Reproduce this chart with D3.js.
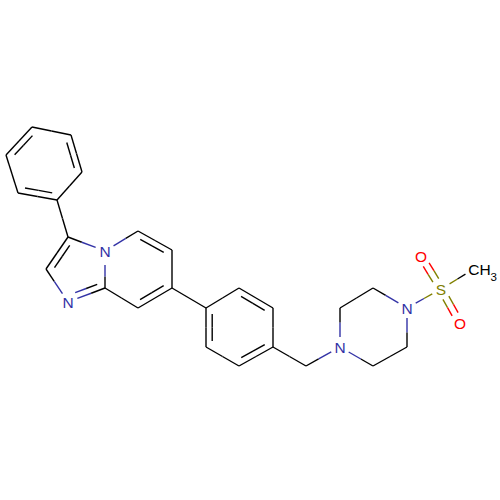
<!DOCTYPE html>
<html>
<head>
<meta charset="utf-8">
<script src="https://cdn.jsdelivr.net/npm/d3@7"></script>
<style>
html, body { margin: 0; padding: 0; background: #fff; }
svg { display: block; }
</style>
</head>
<body>
<svg id="chart" width="500" height="500"></svg>
<script>
// atom positions in drawing units
var atomX = [3.2, 7.1, 8.2, 5.7, 1.8, 0.6, 6.8, 10.5, 4.6, 6.8, 10.5, 13.8, 17.2, 17.2, 13.8,
             20.6, 23.9, 27.3, 27.3, 23.9, 20.6, 30.6, 34.0, 34.0, 37.3, 40.7, 40.7, 37.3, 44.1, 42.1, 46.0, 47.4];
var atomY = [12.7, 13.5, 17.2, 20.0, 19.3, 15.5, 23.7, 25.1, 26.9, 30.2, 28.8, 23.1, 25.0, 28.8, 30.8,
             30.8, 28.8, 30.8, 34.7, 36.6, 34.7, 36.6, 34.7, 30.8, 28.8, 30.8, 34.7, 36.6, 28.9, 25.6, 32.3, 26.9];
var atomElement = ['C','C','C','C','C','C','C','N','C','N','C','C','C','C','C',
                   'C','C','C','C','C','C','C','N','C','C','N','C','C','S','O','O','C'];

var bondFrom = [0,1,2,3,4,5, 3,6,6,8,9,10, 7,11,12,13,14, 13,15,16,17,18,19,20, 18,21,22,23,24,25,26,27, 25,28,28,28];
var bondTo   = [1,2,3,4,5,0, 6,7,8,9,10,7, 11,12,13,14,10, 15,16,17,18,19,20,15, 21,22,23,24,25,26,27,22, 28,29,30,31];
var bondOrder= [1,2,1,2,1,2, 1,1,2,1,2,1, 1,2,1,2,1, 1,1,2,1,2,1,2, 1,1,1,1,1,1,1,1, 1,2,2,1];

var rings = [[0,1,2,3,4,5], [6,7,10,9,8], [7,11,12,13,14,10], [15,16,17,18,19,20]];

var elementColor = { C: '#000000', N: '#3333a6', O: '#ff0000', S: '#808000' };

var methylAtom = 31, bridgeN = 7, bridgeC = 10;
var labelGap = 10, bridgeGap = 14;
var innerOffset = 6.2, innerTrim = 6, sulfonylOffset = 3.4;
var labelSize = 15.5;

var svg = d3.select('#chart');
var x = d3.scaleLinear().domain([0, 50]).range([0, 500]);
var y = d3.scaleLinear().domain([0, 50]).range([0, 500]);

function pos(i) { return [x(atomX[i]), y(atomY[i])]; }

function hasLabel(i) { return atomElement[i] !== 'C' || i === methylAtom; }

function gapAt(atom, other) {
    // the bond below the bridge N stops further from its label
    if (atom === bridgeN && other === bridgeC) { return bridgeGap; }
    return hasLabel(atom) ? labelGap : 0;
}

function ringCentre(a, b) {
    var ring = rings.filter(function (r) { return r.indexOf(a) >= 0 && r.indexOf(b) >= 0; })[0];
    if (!ring) { return null; }
    return [d3.mean(ring, function (i) { return pos(i)[0]; }), d3.mean(ring, function (i) { return pos(i)[1]; })];
}

// clip both ends of a bond, then split what is left in two colours at its middle
function halves(a, b, p, q, gapA, gapB) {
    var dx = q[0] - p[0], dy = q[1] - p[1], len = Math.sqrt(dx * dx + dy * dy);
    var t0 = gapA / len, t1 = 1 - gapB / len, tm = (t0 + t1) / 2;
    function at(t) { return [p[0] + dx * t, p[1] + dy * t]; }
    return [
        { p: at(t0), q: at(tm), color: elementColor[atomElement[a]] },
        { p: at(tm), q: at(t1), color: elementColor[atomElement[b]] }
    ];
}

var segments = [];
bondFrom.forEach(function (a, k) {
    var b = bondTo[k], p = pos(a), q = pos(b);
    var dx = q[0] - p[0], dy = q[1] - p[1], len = Math.sqrt(dx * dx + dy * dy);
    var nx = -dy / len, ny = dx / len;
    var centre = ringCentre(a, b);

    if (bondOrder[k] === 2 && !centre) {
        // sulfonyl S=O, two lines either side of the axis
        [-1, 1].forEach(function (s) {
            var o = s * sulfonylOffset;
            segments = segments.concat(halves(a, b,
                [p[0] + nx * o, p[1] + ny * o], [q[0] + nx * o, q[1] + ny * o],
                gapAt(a, b), gapAt(b, a)));
        });
        return;
    }

    segments = segments.concat(halves(a, b, p, q, gapAt(a, b), gapAt(b, a)));

    if (bondOrder[k] === 2) {
        var side = ((centre[0] - p[0]) * nx + (centre[1] - p[1]) * ny) > 0 ? 1 : -1;
        var o = side * innerOffset;
        segments = segments.concat(halves(a, b,
            [p[0] + nx * o, p[1] + ny * o], [q[0] + nx * o, q[1] + ny * o],
            gapAt(a, b) || innerTrim, gapAt(b, a) || innerTrim));
    }
});

svg.append('g').selectAll('line').data(segments).enter().append('line')
    .attr('x1', function (d) { return d.p[0]; })
    .attr('y1', function (d) { return d.p[1]; })
    .attr('x2', function (d) { return d.q[0]; })
    .attr('y2', function (d) { return d.q[1]; })
    .attr('stroke', function (d) { return d.color; })
    .attr('stroke-width', 1.4);

var heteroAtoms = d3.range(atomX.length).filter(function (i) { return atomElement[i] !== 'C'; });

svg.append('g').selectAll('text').data(heteroAtoms).enter().append('text')
    .attr('x', function (i) { return x(atomX[i]); })
    .attr('y', function (i) { return y(atomY[i]) + 5.5; })
    .attr('text-anchor', 'middle')
    .attr('font-family', 'Liberation Sans, sans-serif')
    .attr('font-size', labelSize)
    .attr('fill', function (i) { return elementColor[atomElement[i]]; })
    .text(function (i) { return atomElement[i]; });

// the methyl label sits to the right of its atom
var methyl = svg.append('text')
    .attr('x', x(atomX[methylAtom]) - 5.8)
    .attr('y', y(atomY[methylAtom]) + 5.5)
    .attr('font-family', 'Liberation Sans, sans-serif')
    .attr('font-size', labelSize)
    .attr('fill', '#000');
methyl.append('tspan').text('CH');
methyl.append('tspan').attr('dy', 6).attr('font-size', 11.5).text('3');
</script>
</body>
</html>
